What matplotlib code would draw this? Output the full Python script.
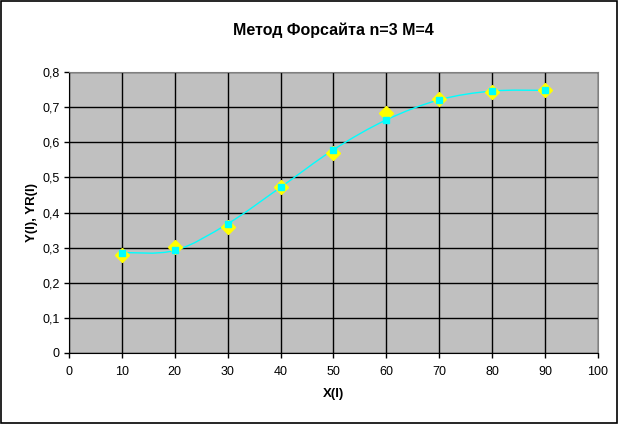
import matplotlib.pyplot as plt
import matplotlib.patches as mpatches
from matplotlib.path import Path
from matplotlib.ticker import FuncFormatter, MultipleLocator

plt.rcParams['font.family'] = ['Liberation Sans', 'DejaVu Sans']

x = [10, 20, 30, 40, 50, 60, 70, 80, 90]
y = [0.280, 0.302, 0.360, 0.472, 0.569, 0.683, 0.723, 0.742, 0.750]
yr = [0.286, 0.292, 0.368, 0.472, 0.579, 0.664, 0.721, 0.746, 0.748]


def smooth_path(xs, ys):
    # Excel-like smoothed line: Catmull-Rom converted to cubic Bezier segments
    pts = list(zip(xs, ys))
    verts = [pts[0]]
    codes = [Path.MOVETO]
    n = len(pts)
    for i in range(n - 1):
        p0 = pts[i - 1] if i > 0 else pts[i]
        p1 = pts[i]
        p2 = pts[i + 1]
        p3 = pts[i + 2] if i + 2 < n else pts[i + 1]
        c1 = (p1[0] + (p2[0] - p0[0]) / 6, p1[1] + (p2[1] - p0[1]) / 6)
        c2 = (p2[0] - (p3[0] - p1[0]) / 6, p2[1] - (p3[1] - p1[1]) / 6)
        verts += [c1, c2, p2]
        codes += [Path.CURVE4] * 3
    return Path(verts, codes)


fig = plt.figure(figsize=(6.19, 4.24), dpi=100)
fig.patches.append(mpatches.Rectangle((0.002, 0.003), 0.995, 0.994, transform=fig.transFigure,
                                      fill=False, edgecolor='black', linewidth=1.2))
ax = fig.add_axes([0.1115, 0.1675, 0.8545, 0.6625])
ax.set_facecolor('#C0C0C0')

ax.add_patch(mpatches.PathPatch(smooth_path(x, yr), fill=False, edgecolor='#00FFFF',
                                linewidth=1, zorder=3))
ax.plot(x, y, linestyle='none', marker='D', markersize=7, color='#FFFF00',
        markeredgecolor='#FFFF00', zorder=4)
ax.plot(x, yr, linestyle='none', marker='s', markersize=5, color='#00FFFF',
        markeredgecolor='#00FFFF', zorder=5)

ax.set_xlim(0, 100)
ax.set_ylim(0, 0.8)
ax.xaxis.set_major_locator(MultipleLocator(10))
ax.yaxis.set_major_locator(MultipleLocator(0.1))
ax.yaxis.set_major_formatter(FuncFormatter(lambda v, p: ('%g' % round(v, 1)).replace('.', ',')))
ax.grid(True, color='black', linewidth=1)
ax.set_axisbelow(True)

for s in ['top', 'right']:
    ax.spines[s].set_color('#808080')
for s in ['left', 'bottom']:
    ax.spines[s].set_color('black')
ax.tick_params(direction='out', length=3.5, width=1, labelsize=9)
ax.tick_params(axis='x', pad=6)
ax.tick_params(axis='y', pad=3)

ax.set_title('Метод Форсайта n=3 M=4', fontsize=11.5, fontweight='bold', pad=27)
ax.set_xlabel('X(I)', fontsize=9.5, fontweight='bold', labelpad=7)
ax.set_ylabel('Y(I), YR(I)', fontsize=9.5, fontweight='bold')
ax.yaxis.set_label_coords(-0.058, 0.5)

fig.savefig('out.png', dpi=100)
